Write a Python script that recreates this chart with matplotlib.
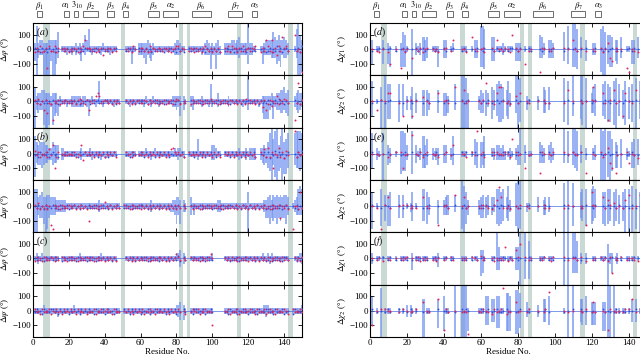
import matplotlib.pyplot as plt
import numpy as np
from matplotlib.patches import Rectangle

plt.rcParams['font.family'] = ['Liberation Serif', 'DejaVu Serif']
plt.rcParams['mathtext.fontset'] = 'stix'
plt.rcParams['font.size'] = 6.5

residues = np.arange(1, 151)

# bar extents: one char per residue, digit d -> d*20 deg, '.' = no data
BAR = {'0': 0, '1': 20, '2': 40, '3': 60, '4': 80, '5': 100,
       '6': 120, '7': 140, '8': 160, '9': 180}
# dot values: one char per residue
DOT = {'0': 0, '1': 10, '2': 20, '3': 30, '4': 40, '5': 60, '6': 80, '7': 100,
       '8': 130, '9': 160, 'a': -10, 'b': -20, 'c': -30, 'd': -40, 'e': -60,
       'f': -80, 'g': -100, 'h': -130, 'i': -160}

# ---- (a) ----
a_phi_hi = "2823322233 3336.11111 1112121253 7111111121 111111.... .111111.22 2223212111 1111111123 3211..1111 1111123212 1231..2222 3323422229 2211..1123 3336435334 32...17953"
a_phi_lo = "4932299994 9953.11121 1212124121 1121111211 112111.... .111511.22 2352342111 1111111122 2211..1111 1112122272 2722..2222 2222322225 2211..1522 2233354623 32...13998"
a_phi_red = "b1a2ba1h2a a2b1.01a0b 0a10b1a251 10a1b0a1d0 a10b1a.... .0a1b20.a1 1a0b2a10a1 0a10a1b012 2a10..a10b 1a0b120a1b 0a1b..1a2b 210b1a2a01 a102..b1a5 2a5b1d2a61 2a...7a0bi"
a_phi_blue = "1a0b1a0b1a 0b1a.1a01a a10a1b0a10 1a0a10b01a 0a1a01.... .a10a10.1a 0a1a0b1a01 a0b1a01a0b 1a0b..1a01 a01a0b1a0a 1a0b..a10a 0b1a01a0b1 1a0a..0a1b a1b0a2a1b0 1a...0a1b2"

a_psi_hi = "5233443332 3331211111 1222221221 1121117111 11111111.. .111111111 1121112111 1111111222 22.21..221 1112111161 1131111121 1111111119 1111111222 2232233445 34...23433"
a_psi_lo = "9343389982 8545211121 1222222212 5111211121 11112111.. .112111111 1211121112 1111111223 25.31..231 1112111212 1121111121 1111112113 1111121466 6326233443 45...23432"
a_psi_red = "1a2b0e1fab h0a1b0a10a 1a0b12a0b1 e0a1454a01 0a1b0a1a.. .1a0b1a01a a10b1a0a1b 0a1b0a1b02 1b.a0..b1a 0a1b0a1a20 a1b0a1a0b1 0a1b0a1b2a 1a0b1a0d1e b1c0a4b1a2 1a...ha8b1"
a_psi_blue = "0a1b0a1a0b 1a0b1a01a0 a01a0b1a01 0b1a01a0a1 1a0a1b0a.. .0a1a0b1a0 1a0b1a01a0 a0b1a0a1b0 1a.0a..1a0 a1a0b1a01a 0a1b0a1a0b 1a0a1b0a01 a01a0b1a0a 1b0a1a2a0b 0a...1a0b1"

# ---- (b) ----
b_phi_hi = "6434443322 4333.22111 1111112111 1211111111 111111.... .111111.11 1121111211 1111111121 2211..1111 1511111113 3211..1111 1111211121 2222..2232 4795893694 57...78887"
b_phi_lo = "8344543322 4332.22111 1111112111 1121111211 111111.... .111111.11 1111121111 1111111111 2111..1111 1211111112 2111..1111 1111211121 2222..2343 5694896597 75...45565"
b_phi_red = "2a1b0a1b3a 5gb1.0a1a0 0a1b0a5d1a 1a0b1a0a1b 0a1a1b.... .1a0b1a.0a 1a0b1a0a1b 0a1b0a3410 1a0b..1a0a 0a1b0a1a0b 1a0b..0a1a 0b1a0a1b0a 1a0b..1a3b 4b1g0a4b1c 2a...9b1a0"
b_phi_blue = "a0b1a0a1b0 1a0b.a0a1a a1a0b1a01a 0a1a0b1a0b 1b0a1a.... .a0b1a0.a1 0b1a0a1b0a 1a0a1b0a1a 0a1b..0a1b 1a0a1b0a1a 0b1a..1a0b 1a0a1b0a1a 0a1b..0a1b 1c0a2b1a0c a1...0b1a2"

b_psi_hi = "6634533443 3322222211 1111111111 1111112111 11111111.. 1111111111 1111121111 1111111223 32.21..311 1111111111 1122111111 1111111115 1111111122 3424343434 43..123676"
b_psi_lo = "9934469843 3322222211 1111111111 1111112111 11111111.. 1111111111 1111121111 1111112236 36.22..313 1111111111 1122111111 1111111119 1111111124 4645464544 63..123333"
b_psi_red = "1a2b0a1b0h i1a0b1a0a1 0a1b0a1a0b g0a1a0b1a3 0a1b0a1a.. 1a0b1a0a1b 0a1a0b1a0a 1a0b1a0a1b 0a.1a..0b1 a0b1a0a1a0 1a0a1b0a1a 0a1b0a1a0b 1a0a1b0a1a 0b1a0a1f0a 1b..i00b7a"
b_psi_blue = "0a1a0b1a0a 1a0b1a0a1b a01a0b1a0a 1a0a1b0a1a 0b1a0a1a.. a1a0b1a0a1 1a0b1a0a1b 0a1a0b1a0a 1a.0a..1a0 0a1b0a1a0b a1a0b1a0a1 0a1a0b1a0a 1a0b1a0a1b a0b1a0a1b0 1a..0a1b0a"

# ---- (c) ----
c_phi_hi = "1211211111 1111.11111 1111121111 1111111211 111111.... .111111111 1111111111 1111111112 23.21..111 1111111112 ......1111 1111111111 1111111211 2121111111 11...11122"
c_phi_lo = "1121111111 1111.11111 1111111111 1111111111 111111.... .111111111 1111111111 1111111111 13.21..111 1111111111 ......1111 1111111111 1111111111 1211111111 11...11112"
c_phi_red = "b1a0b1a0a1 0b1a.1a0b1 a1a0b1a0a1 0a1b0a1a0b 1a0a1b.... .0a1b0a1a0 a1a0b1a0a1 0a1b0a1a03 1a.0a..1a0 a0b1a0a130 ......0a1a 1a0b1a0a1b 0a1a0b1a0a 1b0a1a0b1a 0a...1a0b1"
c_phi_blue = "0a1a0b1a01 a1a0.b1a0a 1a0b1a0a1b a1a0b1a01a 0a1b0a.... .1a0a1b0a1 0a1b0a1a0b 1a0a1b0a1a 2b.1a..0a1 0a1a0b1a0a ......1a0b a0a1b0a1a0 1a0b1a0a1b a1b0a1a0b1 1a...0b1a0"

c_psi_hi = "1111121111 1111111111 1121111111 1111111111 11111111.. 1111111111 1111111111 1111111112 23.21..111 1111111111 ......1111 1111111111 1111111122 2111111111 11..111112"
c_psi_lo = "1111111111 1112111111 1111111111 1111111111 11111111.. 1111111111 1111111111 1111111111 23.31..111 1111111111 ......1111 1111111111 1111111112 1111111111 11..111111"
c_psi_red = "1a0b1a0a1b 0a1a0b1a0a 1a0b1a0a1b a0a1b0a1a0 1a0b1a0a.. 0a1a0b1a0a 1b0a1a0b1a 0a1a0b1a0a 1a.0b..a10 a1b0a1a0ag ......0a1b a0a1b0a1a0 1a0b1a0a1b a1a0b1a0a1 0b..1a0a1a"
c_psi_blue = "a1a0b1a0a1 1a0b1a0a1b 0a1a0b1a0a 1a0b1a0a1b a1a0b1a0.. 1a0b1a0a1b a0a1b0a1a0 1a0b1a0a1b 0a.1a..0b1 1a0a1b0a1a ......a0b1 0a1b0a1a0b a1a0b1a0a1 1a0b1a0a1b a0..b1a0a1"

# ---- (d) ----
d_chi1_hi = "3..11.3..2 1..1..2651 ..7.212.43 4..1111..3 3..12....1 11..1.33.8 87...44.11 121.111.22 2..1.11... .542..332. ....6.8..9 97.4..3... 22..786.55 4.33.4..11 .33.4....."
d_chi1_lo = "5..11.5..5 6..1..6661 ..9.212.44 3..1116..3 3..11....1 11..1.33.6 67...44.11 121.111.44 4..1.11... .332..333. ....4.5..6 67.3..4... 22..899.56 6.45.3..11 .55.3....."
d_chi1_red = "0..ab.0..b g..0..h0b0 ..e.0a1.b0 1..0a0b..0 1..a5....0 0b..6.0a.0 1b...1a.50 0a1.0b7.1a 0..g.a0... .i10..0a1. ....1.0..5 0a.1..a... 0a..1b0.4e f.1a.0..hi .0a.b....."
d_chi1_blue = "a..01.1..0 1..a..01a1 ..0.1a0.1a 0..1a0a..1 a..01....a 1a..0.a1.0 a1...0a.1a 1a0.a11.0a 1..0.1a... .0a1..a01. ....a.1..0 1a.0..1... a1..0a1.a0 1.a0.a..01 .a1.0....."

d_chi2_hi = "7..1.5.9.6 6....6.6.2 .25.3...4. 43....4..3 32...6...9 983.....24 3.43.54.67 65.473..99 8...21.... 2..54.5... ....8.7..9 ...99.8..3 56...67.65 .78.6.47.5 .6.8.7...."
d_chi2_lo = "5..1.9.9.6 6....7.5.3 .36.4...5. 53....4..5 54...3...9 999.....34 4.52.63.57 76.562..49 7...31.... 3..44.3... ....7.8..5 ...68.9..4 45...56.77 .89.5.68.6 .7.9.6...."
d_chi2_red = "0..e.1.0.5 5....a.g.0 .1g.0...3. 0a....5..0 1a...7...0 6a0.....0a 1.8a.0b.57 70.a0b..4a 5...0a.... 0..1a.a... ....a.6..0 ...0a.0..1 70...5a.h1 .6a.0.g5.0 .a.6.1...."
d_chi2_blue = "a..0.1.a.0 1....0.a.1 .0a.1...a. 1a....0..a 01...a...1 a01.....1a 0.a1.a0.1a 01.a0a..1a 0...a1.... 1..0a.a... ....0.1..a ...1a.0..a 01...a1.0a .1a.0.a1.0 .0.1.a...."

# ---- (e) ----
e_chi1_hi = "7..21.7..3 2..1..8873 ..8.312.63 5..2122..3 3..26....1 11..1.54.4 46...22.33 231.121.23 9..3.11... .432..342. ....9.8..9 98.3..2... 23..989.88 5.43.5..21 .45.5....."
e_chi1_lo = "5..21.9..4 3..1..7662 ..7.312.55 4..2124..3 3..24....1 11..1.45.5 45...12.22 222.121.24 4..3.11... .333..232. ....3.3..4 56.3..2... 22..999.89 6.55.5..21 .55.4....."
e_chi1_red = "0..0a.0..b 0..1..1ga0 ..8.0a1.b0 1..0a0b..0 1..a5....0 0b..1.a9.0 1b...1a.10 0a1.0b7.1a 0..g.a0... .h10..0a1. ....1.0..1 0a.1..h... 0a..1b0.4e g.ha.0..1e .0a.c....."
e_chi1_blue = "1..0a.0..1 a..1..a01a ..1.0a1.a0 a..0a1a..0 1..a0....1 a1..0.1a.a 0a...a1.0a a10.1a0.a1 0..1.a0... .1a0..1a0. ....0.a..1 a0.1..0... 1a..0a0.1a 0.1a.0..a0 .1a.a....."

e_chi2_hi = "5..1.6.4.4 5....4.4.1 .15.1...6. 53....2..2 34...4...9 752.....23 4.34.33.66 56.372..89 9...11.... 3..23.3... ....8.9..8 ...56.6..6 76...55.66 .56.4.56.6 .7.6.5...."
e_chi2_lo = "8..1.7.5.7 7....4.4.1 .25.1...5. 63....6..3 33...2...8 963.....34 4.43.32.67 65.452..79 8...21.... 2..33.2... ....9.9..7 ...45.7..6 54...67.65 .75.6.59.9 .9.8.9...."
e_chi2_red = "0..a.i.1.5 a....0.1.1 .a0.a...5. 0a....h..0 1a...6...0 5a0.....0a 1.0a.b1.48 5a.a0b..0a 1...0a.... 0..1a.a... ....a.1..0 ...0a.h..7 10...5a.41 .2a.0.a4.6 .a.0.6...."
e_chi2_blue = "1..0.a.1.0 a....1.a.0 .1a.0...a. a1....0..1 0a...1...a 1a0.....a1 a.10.a1.0a 10.a1a..0a a...01.... 0..a1.0... ....1.a..0 ...a0.1..0 a1...0a.1a .0a.1.a0.a .1.a.0...."

# ---- (f) ----
f_chi1_hi = "2..11.1..1 1..1..1111 ..2.111.11 1..1112..1 1..11....1 11..1.11.3 31...11.94 111.111.44 9..9.61... .111..111. ....9.9..9 96.2..2... 11..111.52 2.12.1..11 .11.1....."
f_chi1_lo = "2..11.1..1 1..1..1111 ..4.111.11 1..1113..1 1..11....1 11..1.11.6 51...11.44 111.111.44 9..7.71... .111..111. ....9.9..5 55.2..2... 11..111.92 5.12.1..11 .11.1....."
f_chi1_red = "0..a0.b..0 a..0..0a01 ..0.a1b.0a 0..a0b0..a 0..1a....0 a0..1.0a.2 a0...0b.0a 0a6.b0a.51 7..1.a0... .0a1..0b1. ....1.a..0 0a.1..b... a0..1a0.b1 g.0a.1..a0 .0a.b....."
f_chi1_blue = "a..01.1..a 1..a..a10a ..a.1a0.a1 a..01a1..0 1..a0....a 0a..a.1a.0 1a...a1.a0 a10.a1a.0a 0..a.1a... .a01..a0a. ....a.0..1 1a.a..0... 0a..0a1.a0 1.a0.a..0a .a1.0....."

f_chi2_hi = "5..1.8.1.1 1....1.1.2 .21.1...4. 11....4..5 11...9...9 991.....11 1.55.44.55 11.665..77 6...31.... 2..44.5... ....1.9..9 ...44.5..3 33...33.99 .91.1.11.1 .4.4.1...."
f_chi2_lo = "5..1.9.1.1 1....1.1.2 .21.1...9. 11....6..7 11...9...9 997.....11 1.55.44.66 11.777..88 6...21.... 2..44.5... ....1.9..9 ...45.5..5 55...77.99 .91.1.11.1 .4.4.1...."
f_chi2_red = "g..0.1.1.0 0....a.1.0 .a0.1...5. 0a....6..h 1a...0...a 0ai.....0a 1.0a.b1.a0 19.b0a..5a 0...a1.... 0..a1.8... ....0.a..0 ...0a.1..a 5a...0a.h1 .0a.0.a1.1 .6.a.1...."
f_chi2_blue = "1..a.0.a.1 a....1.0.a .1a.0...a. a0....1..0 0a...a...1 a10.....a1 0.a1.a0.1a a0.1a0..a0 1...0a.... a..01.a... ....a.0..1 ...1a.0..a 0a...1a.0a .a1.a.0a.0 .0.1.a...."

# shaded residue ranges
band_start = [5.8, 48.8, 81.5, 85.6, 113.8, 142.2]
band_end = [9.5, 51.3, 83.4, 87.8, 116.2, 144.7]

# secondary structure
ss_names = [r'$\beta_1$', r'$\alpha_1$', r'$3_{10}$', r'$\beta_2$', r'$\beta_3$', r'$\beta_4$',
            r'$\beta_5$', r'$\alpha_2$', r'$\beta_6$', r'$\beta_7$', r'$\alpha_3$']
ss_start = [2, 17.5, 23, 28, 41.5, 50, 64, 72.5, 88.5, 109, 122]
ss_end = [5, 20, 25, 36, 45, 53, 70, 81, 99, 116.5, 125]
ss_label_x = [3.5, 18.0, 24.8, 32, 43.2, 51.5, 67, 76.7, 93.7, 112.7, 123.5]
mark_res = [2, 4, 5, 6, 7, 8, 9, 15, 16, 18, 20, 26, 28, 30, 31, 33, 34, 35, 39, 40, 41,
            42, 43, 44, 45, 46, 49, 50, 51, 52, 53, 60, 61, 64, 65, 66, 67, 68, 69, 70, 73,
            74, 75, 76, 78, 81, 83, 89, 91, 93, 95, 97, 100, 110, 111, 113, 114, 115, 116,
            117, 124, 130, 132, 133, 134, 135, 136, 137, 143]


def decode(s, table, name):
    groups = s.split()
    bad = [g for g in groups if len(g) != 10]
    if bad or len(groups) != 15:
        raise ValueError(f"{name}: {len(groups)} groups, bad {bad}")
    return np.array([np.nan if c == '.' else table[c] for c in ''.join(groups)], float)


def draw(ax, name):
    g = globals()
    h = decode(g[name + '_hi'], BAR, name)
    l = decode(g[name + '_lo'], BAR, name)
    r = decode(g[name + '_red'], DOT, name)
    b = decode(g[name + '_blue'], DOT, name)
    for s, e in zip(band_start, band_end):
        ax.axvspan(s, e, color='#cbd9d4', lw=0, zorder=0)
    m = ~np.isnan(h)
    ax.bar(residues[m], h[m] + l[m], bottom=-l[m], width=1.1,
           color='#7596f0', alpha=0.72, lw=0, zorder=1)
    ax.axhline(0, color='#4a6fe3', lw=0.5, zorder=2)
    mb = m & ~np.isnan(b)
    ax.scatter(residues[mb], b[mb], s=1.8, color='#3550d8', lw=0, zorder=3)
    mr = m & ~np.isnan(r)
    ax.scatter(residues[mr], r[mr], s=2.0, color='#e0245e', lw=0, zorder=4)


fig = plt.figure(figsize=(6.4, 3.58), dpi=100)

columns = [
    (0.0516, 0.4203, ['a_phi', 'a_psi', 'b_phi', 'b_psi', 'c_phi', 'c_psi'],
     [r'$\Delta\varphi$ (°)', r'$\Delta\psi$ (°)'], ['a', 'b', 'c']),
    (0.578, 0.433, ['d_chi1', 'd_chi2', 'e_chi1', 'e_chi2', 'f_chi1', 'f_chi2'],
     [r'$\Delta\chi_1$ (°)', r'$\Delta\chi_2$ (°)'], ['d', 'e', 'f']),
]
bottom0 = 0.0587
rowh = 0.1462

for left, width, names, ylabels, letters in columns:
    for row, name in enumerate(names):
        ax = fig.add_axes([left, bottom0 + (5 - row) * rowh, width, rowh])
        draw(ax, name)
        ax.set_xlim(0, 150)
        ax.set_ylim(-180, 180)
        ax.set_yticks([-100, 0, 100])
        ax.set_xticks(range(0, 141, 20))
        ax.tick_params(direction='in', top=True, right=True, length=3, width=0.6,
                       labelsize=6.5, pad=1.5)
        for sp in ax.spines.values():
            sp.set_linewidth(0.8)
        ax.set_ylabel(ylabels[row % 2], labelpad=1)
        if row % 2 == 0:
            ax.text(0.012, 0.95, '($' + letters[row // 2] + '$)', transform=ax.transAxes,
                    va='top', ha='left', fontsize=7, zorder=6)
        if row < 5:
            ax.tick_params(labelbottom=False)
        else:
            ax.set_xlabel('Residue No.', labelpad=0.5)

    axt = fig.add_axes([left, bottom0 + 6 * rowh, width, 1 - (bottom0 + 6 * rowh)])
    axt.set_xlim(0, 150)
    axt.set_ylim(0, 1)
    axt.axis('off')
    for s, e in zip(ss_start, ss_end):
        axt.add_patch(Rectangle((s, 0.27), e - s, 0.26, fill=False, ec='#555555', lw=0.6))
    for nm, x in zip(ss_names, ss_label_x):
        axt.text(x, 0.64, nm, ha='center', va='baseline', fontsize=6)
    axt.scatter(mark_res, [0.1] * len(mark_res), marker='s', s=0.5, color='#888888', lw=0)

fig.savefig('out.png', dpi=100)
